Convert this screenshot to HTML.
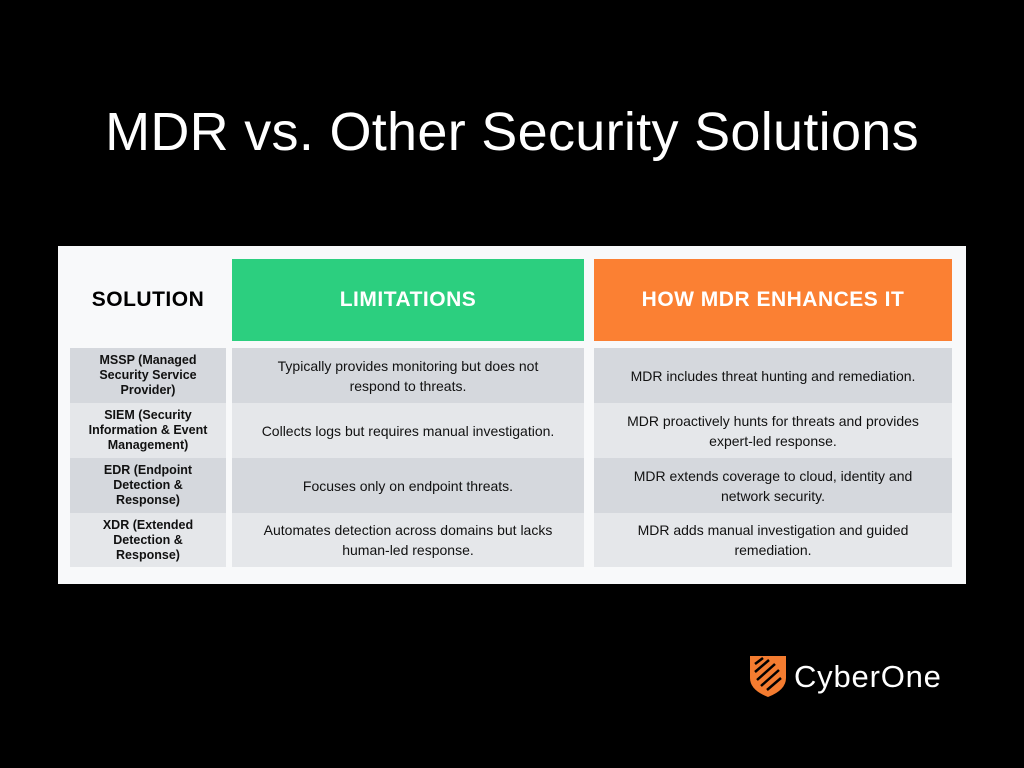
<!DOCTYPE html>
<html><head><style>
body{margin:0;width:1024px;height:768px;background:#000;position:relative;overflow:hidden;font-family:"Liberation Sans",sans-serif}
.t{position:absolute;left:0;width:1024px;top:100px;text-align:center;color:#fff;font-size:54px;line-height:64px;letter-spacing:0.3px}
.panel{position:absolute;left:58px;top:246px;width:908px;height:338px;background:#f8f9fa}
.c{position:absolute;display:flex;align-items:center;justify-content:center;text-align:center;box-sizing:border-box}
.h{font-weight:bold;font-size:21px;letter-spacing:0.5px}
.s{font-weight:bold;font-size:12.5px;line-height:15px;color:#111}
.d{font-size:14px;line-height:20px;color:#111;padding:0 10px}
.a{background:#d5d8dd}.b{background:#e5e7ea}
</style></head><body>
<div class="t">MDR vs. Other Security Solutions</div>
<div class="panel"></div>
<div class="c h" style="left:70px;top:259px;width:156px;height:82px;color:#000">SOLUTION</div>
<div class="c h" style="left:232px;top:259px;width:352px;height:82px;background:#2ccf7f;color:#fff">LIMITATIONS</div>
<div class="c h" style="left:594px;top:259px;width:358px;height:82px;background:#fb8033;color:#fff">HOW MDR ENHANCES IT</div>

<div class="c s a" style="left:70px;top:348px;width:156px;height:55px">MSSP (Managed<br>Security Service<br>Provider)</div>
<div class="c d a" style="left:232px;top:348px;width:352px;height:55px">Typically provides monitoring but does not<br>respond to threats.</div>
<div class="c d a" style="left:594px;top:348px;width:358px;height:55px">MDR includes threat hunting and remediation.</div>

<div class="c s b" style="left:70px;top:403px;width:156px;height:55px">SIEM (Security<br>Information &amp; Event<br>Management)</div>
<div class="c d b" style="left:232px;top:403px;width:352px;height:55px;padding:0 4px">Collects logs but requires manual investigation.</div>
<div class="c d b" style="left:594px;top:403px;width:358px;height:55px">MDR proactively hunts for threats and provides<br>expert-led response.</div>

<div class="c s a" style="left:70px;top:458px;width:156px;height:55px">EDR (Endpoint<br>Detection &amp;<br>Response)</div>
<div class="c d a" style="left:232px;top:458px;width:352px;height:55px">Focuses only on endpoint threats.</div>
<div class="c d a" style="left:594px;top:458px;width:358px;height:55px">MDR extends coverage to cloud, identity and<br>network security.</div>

<div class="c s b" style="left:70px;top:513px;width:156px;height:54px">XDR (Extended<br>Detection &amp;<br>Response)</div>
<div class="c d b" style="left:232px;top:513px;width:352px;height:54px;padding:0 4px">Automates detection across domains but lacks<br>human-led response.</div>
<div class="c d b" style="left:594px;top:513px;width:358px;height:54px">MDR adds manual investigation and guided<br>remediation.</div>

<svg style="position:absolute;left:749px;top:654px" width="40" height="44" viewBox="0 0 40 44">
<path d="M1 2 H37 V24 Q37 36 19 43 Q1 36 1 24 Z" fill="#f47c30"/>
<path d="M6 10 L14 4 M6 18 L20 6 M8 26 L26 10 M12 32 L30 16 M18 36 L32 24" stroke="#000" stroke-width="2.5"/>
</svg>
<div style="position:absolute;left:794px;top:659px;color:#fff;font-size:31px;line-height:36px;letter-spacing:0.8px">CyberOne</div>
</body></html>
